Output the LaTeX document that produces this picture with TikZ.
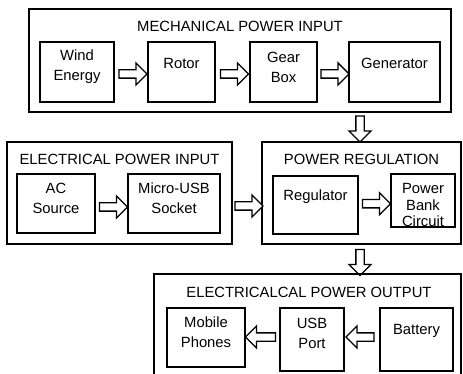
\documentclass[tikz,border=0pt]{standalone}
\usepackage{fontspec}
\setmainfont{Liberation Sans}
\usetikzlibrary{shapes.arrows,calc}
\begin{document}
\begin{tikzpicture}[x=1pt,y=-1pt,
  box/.style={draw, line width=1.6pt, inner sep=0pt},
  txt/.style={align=center, inner sep=0pt, font=\fontsize{14.8}{20}\selectfont},
  ttl/.style={inner sep=0pt, font=\fontsize{14.8}{17}\selectfont},
  barrow/.style={draw, line width=1.3pt, single arrow, single arrow head extend=7pt,
    minimum width=21pt, inner sep=3.5pt, fill=white},
]
\useasboundingbox (0,0) rectangle (463,374);
\clip (0,0) rectangle (463,374);
% --- mechanical power input
\node[box, minimum width=422, minimum height=103] (mech) at (240,60.5) {};
\node[ttl] (mecht) at (240,26) {MECHANICAL POWER INPUT};
\node[box, minimum width=74, minimum height=60] (wind) at (77,72) {};
\node[txt] at (77,67) {Wind\\Energy};
\node[box, minimum width=67, minimum height=60] (rotor) at (181.5,72) {};
\node[txt] at (181.5,63) {Rotor};
\node[box, minimum width=67, minimum height=60] (gear) at (283.5,72) {};
\node[txt] at (283.5,67) {Gear\\Box};
\node[box, minimum width=91, minimum height=60] (gen) at (394.5,72) {};
\node[txt] at (394.5,63) {Generator};
\node[barrow, minimum height=28] (a1) at ($(wind.east)!0.5!(rotor.west)+(0,2)$) {};
\node[barrow, minimum height=28] (a2) at ($(rotor.east)!0.5!(gear.west)+(0,2)$) {};
\node[barrow, minimum height=28] (a3) at ($(gear.east)!0.5!(gen.west)+(0,2)$) {};
% --- electrical power input
\node[box, minimum width=225, minimum height=102] (ein) at (119.5,193) {};
\node[ttl] (eint) at (119.5,159) {ELECTRICAL POWER INPUT};
\node[box, minimum width=78, minimum height=59] (ac) at (56,203.5) {};
\node[txt] at (56,198) {AC\\Source};
\node[box, minimum width=92, minimum height=59] (micro) at (174,203.5) {};
\node[txt] at (174,198) {Micro-USB\\Socket};
\node[barrow, minimum height=28] (a4) at ($(ac.east)!0.5!(micro.west)+(0,3.5)$) {};
% --- power regulation
\node[box, minimum width=199, minimum height=102] (preg) at (361.5,193) {};
\node[ttl] (pregt) at (361.5,159) {POWER REGULATION};
\node[box, minimum width=85, minimum height=58] (reg) at (315.5,205) {};
\node[txt] at (315.5,197) {Regulator};
\node[box, minimum width=64, minimum height=53] (pb) at (423,200.5) {};
\node[txt, font=\fontsize{14.8}{16.5}\selectfont] at (423,205) {Power\\Bank\\Circuit};
\node[barrow, minimum height=28] (a5) at ($(reg.east)!0.5!(pb.west)+(0,1)$) {};
\node[barrow, minimum height=28] (a6) at ($(ein.east)!0.5!(preg.west)+(0,13)$) {};
% --- down arrows
\node[barrow, minimum height=26, shape border rotate=270] (d1) at (360,127) {};
\node[barrow, minimum height=26, shape border rotate=270] (d2) at (360,260.5) {};
% --- electrical power output
\node[box, minimum width=307, minimum height=116] (eout) at (307.5,332) {};
\node[ttl] (eoutt) at (309,292) {ELECTRICALCAL POWER OUTPUT};
\node[box, minimum width=78, minimum height=59] (mob) at (206,337.5) {};
\node[txt] at (206,332) {Mobile\\Phones};
\node[box, minimum width=64, minimum height=63] (usb) at (312,339.5) {};
\node[txt] at (312,333) {USB\\Port};
\node[box, minimum width=73, minimum height=63] (bat) at (416.5,339.5) {};
\node[txt] at (416.5,331) {Battery};
\node[barrow, minimum height=30, shape border rotate=180] (a7) at ($(mob.east)!0.5!(usb.west)+(0,-1.5)$) {};
\node[barrow, minimum height=28, shape border rotate=180] (a8) at ($(usb.east)!0.5!(bat.west)+(0,-2.5)$) {};
\end{tikzpicture}
\end{document}
